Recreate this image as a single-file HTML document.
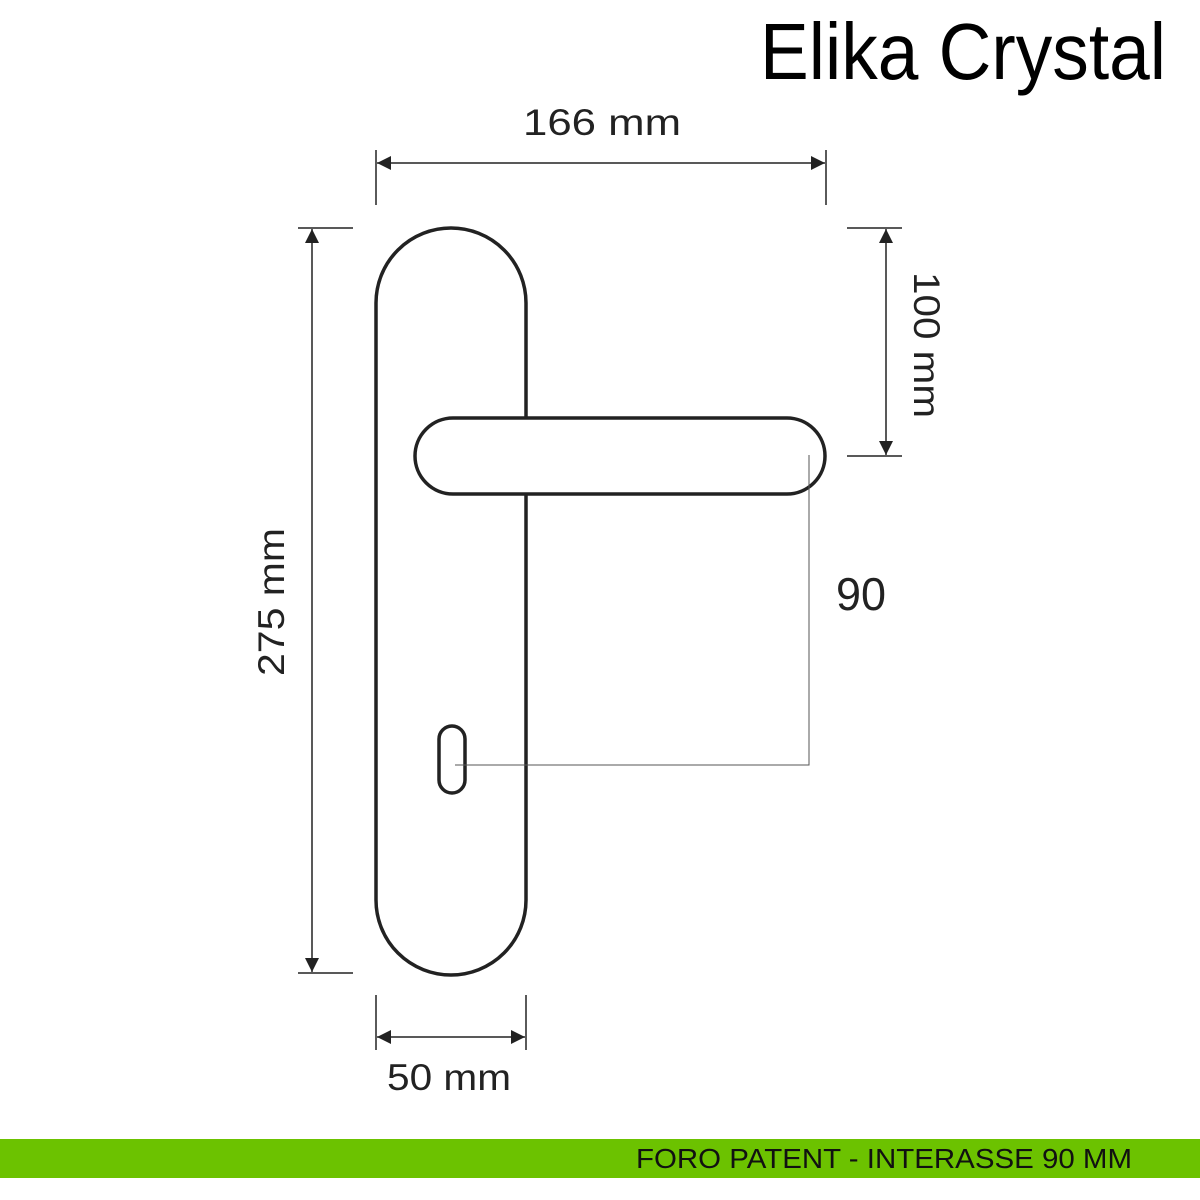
<!DOCTYPE html>
<html><head><meta charset="utf-8"><style>
html,body{margin:0;padding:0;background:#fff;width:1200px;height:1200px;overflow:hidden}
svg{display:block}
text{font-family:"Liberation Sans",Arial,sans-serif;fill:#222}
</style></head><body>
<svg width="1200" height="1200" viewBox="0 0 1200 1200" xmlns="http://www.w3.org/2000/svg">
<defs>
<marker id="a" viewBox="0 0 10 10" refX="10" refY="5" markerWidth="18" markerHeight="14" markerUnits="userSpaceOnUse" orient="auto-start-reverse"><path d="M0,0L10,5L0,10z" fill="#222"/></marker>
</defs>
<text x="1166" y="79" font-size="80" textLength="406" lengthAdjust="spacingAndGlyphs" text-anchor="end" style="fill:#000">Elika Crystal</text>
<text x="523" y="135" font-size="37" textLength="158" lengthAdjust="spacingAndGlyphs">166  mm</text>
<line x1="376" y1="150" x2="376" y2="205" stroke="#222" stroke-width="1.5"/>
<line x1="826" y1="150" x2="826" y2="205" stroke="#222" stroke-width="1.5"/>
<line x1="377" y1="163" x2="825" y2="163" stroke="#222" stroke-width="1.5" marker-start="url(#a)" marker-end="url(#a)"/>
<line x1="298" y1="228" x2="353" y2="228" stroke="#222" stroke-width="1.5"/>
<line x1="298" y1="973" x2="353" y2="973" stroke="#222" stroke-width="1.5"/>
<line x1="312" y1="229" x2="312" y2="972" stroke="#222" stroke-width="1.5" marker-start="url(#a)" marker-end="url(#a)"/>
<text transform="translate(284,676) rotate(-90)" font-size="37" textLength="148" lengthAdjust="spacingAndGlyphs">275 mm</text>
<line x1="847" y1="228" x2="902" y2="228" stroke="#222" stroke-width="1.5"/>
<line x1="847" y1="456" x2="902" y2="456" stroke="#222" stroke-width="1.5"/>
<line x1="886" y1="229" x2="886" y2="455" stroke="#222" stroke-width="1.5" marker-start="url(#a)" marker-end="url(#a)"/>
<text transform="translate(914,272) rotate(90)" font-size="37" textLength="146" lengthAdjust="spacingAndGlyphs">100 mm</text>
<line x1="376" y1="995" x2="376" y2="1050" stroke="#222" stroke-width="1.5"/>
<line x1="526" y1="995" x2="526" y2="1050" stroke="#222" stroke-width="1.5"/>
<line x1="377" y1="1037" x2="525" y2="1037" stroke="#222" stroke-width="1.5" marker-start="url(#a)" marker-end="url(#a)"/>
<text x="387" y="1090" font-size="37" textLength="124" lengthAdjust="spacingAndGlyphs">50 mm</text>
<path d="M526,418 V303 A75,75 0 0 0 376,303 V900 A75,75 0 0 0 526,900 V494" fill="none" stroke="#222" stroke-width="3.5"/>
<rect x="415" y="418" width="410" height="76" rx="38" ry="38" fill="none" stroke="#222" stroke-width="3.5"/>
<rect x="439" y="726" width="26" height="67" rx="13" ry="13" fill="none" stroke="#222" stroke-width="3.5"/>
<polyline points="809,455 809,765 455,765" fill="none" stroke="#555" stroke-width="1"/>
<text x="836" y="610" font-size="46" textLength="50" lengthAdjust="spacingAndGlyphs">90</text>
<rect x="0" y="1139" width="1200" height="39" fill="#6cc200"/>
<text x="636" y="1168" font-size="28" textLength="496" lengthAdjust="spacingAndGlyphs" style="fill:#111">FORO PATENT - INTERASSE 90 MM</text>
</svg>
</body></html>
